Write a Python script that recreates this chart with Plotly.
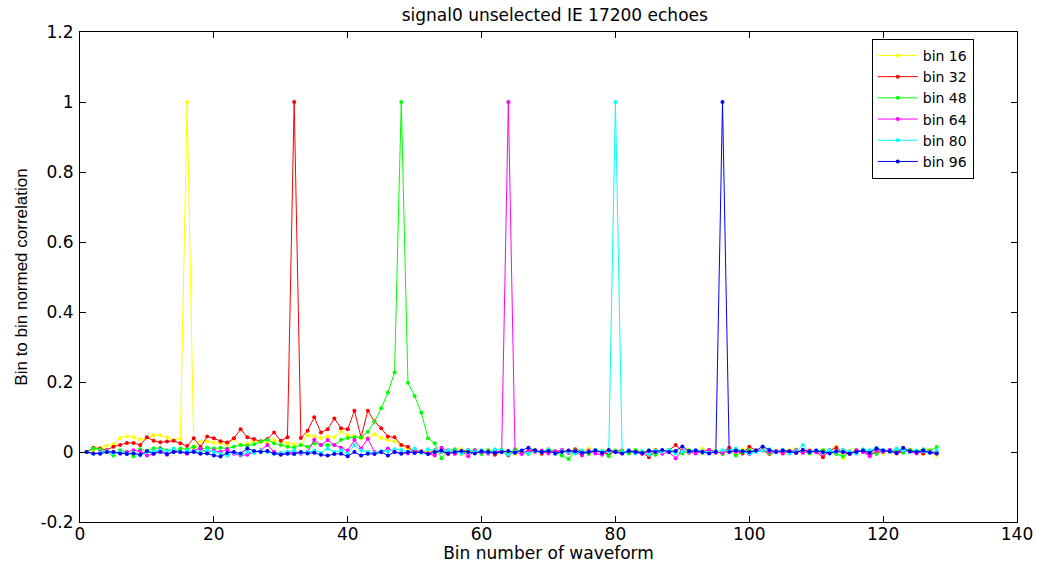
import plotly.graph_objects as go

bins = list(range(1, 129))

bin16 = [0.0, 0.005, 0.012, 0.018, 0.022, 0.04, 0.045, 0.042, 0.036, 0.04,
         0.048, 0.048, 0.042, 0.034, 0.038, 1.0, 0.01, 0.03, 0.03, 0.027,
         0.025, 0.022, 0.038, 0.02, 0.024, 0.032, 0.028, 0.026, 0.034, 0.03,
         0.025, 0.022, 0.02, 0.048, 0.045, 0.04, 0.044, 0.042, 0.058, 0.048,
         0.045, 0.039, 0.04, 0.051, 0.04, 0.034, 0.03, 0.02, 0.01, 0.005,
         0.0, 0.003, -0.005, 0.004, 0.002, -0.003, 0.008, 0.0, 0.005, -0.004,
         0.006, 0.0, 0.005, 0.002, -0.006, 0.003, 0.0, 0.004, -0.002, 0.006,
         0.0, 0.003, 0.005, -0.005, 0.002, 0.01, 0.0, 0.004, 0.006, 0.003,
         -0.002, 0.005, 0.002, -0.004, 0.0, 0.008, 0.002, 0.005, -0.003, 0.006,
         0.004, 0.0, 0.01, 0.005, 0.003, -0.005, 0.004, 0.0, 0.008, 0.006,
         0.002, 0.01, 0.0, 0.004, -0.006, 0.005, 0.008, 0.0, 0.004, 0.002,
         0.006, 0.0, 0.015, -0.018, 0.004, 0.006, 0.002, 0.0, 0.008, -0.004,
         0.005, 0.002, 0.01, 0.0, 0.004, -0.005, 0.006, -0.01]

bin32 = [0.0, 0.012, 0.01, 0.006, 0.015, 0.02, 0.026, 0.026, 0.02, 0.042,
         0.032, 0.028, 0.03, 0.032, 0.025, 0.017, 0.039, 0.015, 0.044, 0.039,
         0.031, 0.027, 0.039, 0.065, 0.042, 0.037, 0.031, 0.037, 0.056, 0.032,
         0.042, 1.0, 0.04, 0.061, 0.099, 0.056, 0.065, 0.096, 0.068, 0.065,
         0.118, 0.042, 0.118, 0.087, 0.068, 0.044, 0.042, 0.02, 0.015, 0.0,
         0.002, -0.004, 0.005, 0.0, -0.006, 0.004, 0.0, 0.006, 0.002, -0.003,
         0.004, -0.008, 0.003, -0.01, 0.005, 0.0, 0.002, 0.006, -0.005, 0.003,
         0.0, 0.004, -0.002, 0.008, 0.002, -0.004, 0.005, 0.0, -0.006, 0.003,
         0.004, -0.003, 0.002, 0.0, -0.015, 0.005, 0.002, 0.005, 0.02, 0.003,
         -0.002, 0.004, 0.0, 0.006, -0.002, 0.0, 0.012, 0.002, -0.004, 0.015,
         0.005, 0.004, -0.006, 0.0, 0.005, 0.002, -0.003, 0.006, 0.004, 0.0,
         -0.015, 0.005, 0.012, 0.0, -0.006, 0.004, 0.002, -0.008, 0.0, 0.003,
         0.006, -0.004, 0.0, 0.005, 0.002, -0.004, 0.003, 0.0]

bin48 = [0.0, 0.01, 0.008, 0.0, -0.01, 0.005, 0.0, -0.012, 0.008, 0.003,
         0.01, 0.012, 0.005, 0.0, 0.01, 0.008, 0.015, 0.008, 0.012, 0.01,
         0.012, 0.01, 0.015, 0.02, 0.018, 0.022, 0.03, 0.035, 0.025, 0.02,
         0.015, 0.013, 0.02, 0.015, 0.025, 0.02, 0.02, 0.02, 0.035, 0.04,
         0.042, 0.042, 0.058, 0.087, 0.125, 0.17, 0.227, 1.0, 0.198, 0.16,
         0.112, 0.039, 0.025, -0.018, 0.004, 0.008, -0.005, 0.002, 0.006, -0.006,
         0.004, 0.0, 0.006, -0.004, 0.008, 0.002, -0.006, 0.004, 0.0, 0.008,
         0.002, -0.01, -0.02, 0.004, 0.0, -0.006, 0.005, 0.0, -0.012, 0.004,
         0.002, -0.004, 0.006, 0.0, 0.004, -0.008, 0.003, 0.006, 0.0, -0.004,
         0.005, 0.0, -0.003, 0.006, 0.002, -0.006, 0.004, -0.01, 0.0, 0.005,
         0.002, 0.006, -0.004, 0.0, 0.004, -0.002, 0.005, 0.0, -0.004, 0.003,
         0.005, 0.0, -0.006, -0.012, -0.004, 0.005, 0.0, 0.004, -0.006, 0.003,
         0.0, 0.005, -0.002, 0.006, 0.002, 0.008, 0.004, 0.014]

bin64 = [0.0, -0.005, 0.0, 0.003, 0.0, -0.004, 0.0, 0.005, 0.002, -0.01,
         -0.005, 0.008, -0.008, 0.002, 0.0, -0.005, 0.004, 0.01, -0.002, 0.004,
         0.0, 0.008, -0.005, -0.01, -0.008, 0.0, 0.005, 0.02, 0.0, -0.005,
         -0.002, 0.0, -0.005, 0.0, 0.035, 0.02, 0.034, 0.02, 0.012, 0.004,
         0.034, 0.01, 0.038, 0.0, 0.0, 0.01, 0.0, -0.002, -0.004, 0.006,
         0.0, -0.004, -0.01, 0.012, 0.004, -0.006, 0.002, -0.012, 0.004, 0.0,
         -0.005, 0.003, 0.0, 1.0, 0.0, -0.006, 0.003, 0.0, 0.004, -0.004,
         0.002, 0.006, -0.002, 0.0, -0.01, 0.004, -0.004, -0.008, 0.002, 0.0,
         -0.004, 0.005, 0.0, -0.006, 0.002, 0.004, -0.005, 0.0, -0.018, 0.004,
         0.0, -0.004, 0.002, 0.006, 0.0, -0.003, 0.004, 0.0, 0.003, -0.006,
         0.002, 0.006, 0.0, 0.003, -0.004, 0.0, 0.005, -0.003, 0.002, 0.0,
         -0.005, 0.004, 0.0, 0.006, -0.006, 0.005, 0.0, -0.012, 0.004, 0.0,
         0.006, -0.002, 0.004, 0.0, -0.004, 0.003, 0.0, -0.004]

bin80 = [0.0, -0.005, -0.002, 0.003, -0.004, 0.0, -0.005, -0.002, -0.01, 0.0,
         0.002, 0.006, 0.003, 0.01, 0.0, 0.004, 0.002, 0.0, 0.005, 0.0,
         -0.005, -0.01, -0.002, -0.008, 0.0, -0.003, 0.004, 0.0, -0.005, -0.002,
         0.0, 0.005, -0.003, 0.0, 0.004, -0.002, 0.01, 0.0, 0.005, -0.004,
         0.02, 0.004, 0.0, -0.003, 0.003, 0.002, 0.008, 0.006, 0.0, 0.01,
         -0.002, 0.008, 0.004, 0.0, 0.005, 0.002, -0.003, 0.006, 0.0, 0.005,
         -0.002, 0.008, 0.004, -0.008, 0.0, 0.004, -0.004, 0.003, 0.0, 0.006,
         -0.005, 0.002, 0.0, -0.004, 0.004, 0.0, 0.005, 0.002, 0.0, 1.0,
         0.0, 0.004, -0.004, 0.002, -0.008, 0.004, 0.0, 0.006, -0.004, 0.002,
         0.0, 0.006, 0.002, -0.002, 0.0, 0.005, 0.004, 0.01, 0.002, -0.004,
         0.0, 0.004, 0.008, 0.0, 0.006, -0.004, 0.002, 0.02, 0.0, 0.004,
         -0.002, 0.005, 0.0, 0.006, 0.002, -0.005, 0.008, 0.004, 0.012, 0.006,
         0.002, 0.01, 0.005, 0.0, 0.004, 0.002, -0.002, 0.004]

bin96 = [0.0, -0.004, -0.005, 0.0, 0.0, -0.004, -0.006, -0.004, -0.008, 0.003,
         -0.005, 0.0, -0.006, 0.0, 0.0, -0.003, 0.0, -0.005, -0.004, -0.01,
         -0.013, -0.002, 0.0, -0.004, 0.01, 0.003, 0.0, 0.003, -0.004, -0.008,
         -0.005, -0.006, 0.0, -0.004, -0.002, -0.008, -0.01, -0.006, -0.005, -0.012,
         0.0, -0.01, -0.005, -0.006, 0.0, -0.01, 0.0, -0.005, 0.0, -0.003,
         0.0, -0.006, 0.0, 0.004, -0.004, 0.0, 0.003, 0.0, -0.004, 0.002,
         0.0, -0.003, 0.0, 0.003, -0.002, 0.004, 0.012, 0.004, 0.0, 0.003,
         -0.004, 0.0, 0.004, 0.002, -0.002, 0.0, 0.004, -0.002, 0.006, 0.0,
         -0.004, 0.003, 0.0, -0.003, 0.004, 0.0, 0.006, 0.0, 0.003, 0.016,
         0.002, 0.004, 0.0, -0.004, 0.0, 1.0, 0.0, 0.004, 0.002, 0.0,
         0.004, 0.016, 0.006, 0.0, 0.004, 0.002, -0.002, 0.006, 0.0, 0.004,
         0.0, -0.004, 0.002, 0.0, -0.004, 0.0, 0.004, -0.002, 0.01, 0.004,
         0.002, -0.003, 0.012, 0.002, 0.0, 0.004, -0.002, -0.004]

series_names = ["bin 16", "bin 32", "bin 48", "bin 64", "bin 80", "bin 96"]
series_values = [bin16, bin32, bin48, bin64, bin80, bin96]
series_colors = ["#ffff00", "#ff0000", "#00ff00", "#ff00ff", "#00ffff", "#0000ff"]

y_tickvals = [-0.2, 0, 0.2, 0.4, 0.6, 0.8, 1, 1.2]
y_ticktext = ["-0.2", "0", "0.2", "0.4", "0.6", "0.8", "1", "1.2"]
x_tickvals = [0, 20, 40, 60, 80, 100, 120, 140]

fig = go.Figure()
for name, vals, col in zip(series_names, series_values, series_colors):
    fig.add_trace(go.Scatter(
        x=bins, y=vals, name=name, mode="lines+markers",
        line=dict(color=col, width=1),
        marker=dict(color=col, size=4, symbol="circle"),
    ))

axis_common = dict(
    showline=True, linecolor="black", linewidth=1, mirror="ticks",
    ticks="inside", ticklen=6, tickcolor="black", tickwidth=1,
    showgrid=False, zeroline=False, automargin=False,
    tickfont=dict(family="DejaVu Sans", size=17, color="black"),
)

fig.update_layout(
    width=1037, height=563,
    margin=dict(l=80, r=20, t=32, b=41),
    paper_bgcolor="white", plot_bgcolor="white",
    title=dict(text="signal0 unselected IE 17200 echoes",
               x=0.535, xanchor="center", y=1 - 15 / 563, yanchor="middle",
               font=dict(family="DejaVu Sans", size=17, color="black")),
    xaxis=dict(range=[0, 140], tickvals=x_tickvals, ticklabelstandoff=-3,
               title=dict(text="Bin number of waveform", standoff=0,
                          font=dict(family="DejaVu Sans", size=17, color="black")),
               **axis_common),
    yaxis=dict(range=[-0.2, 1.2], tickvals=y_tickvals, ticktext=y_ticktext,
               ticklabelstandoff=2,
               title=dict(text="Bin to bin normed correlation", standoff=8,
                          font=dict(family="Liberation Sans", size=17, color="black")),
               **axis_common),
    legend=dict(x=0.845, y=0.986, xanchor="left", yanchor="top",
                bgcolor="white", bordercolor="black", borderwidth=1,
                font=dict(family="DejaVu Sans", size=14, color="black"),
                tracegroupgap=0, itemwidth=40),
    showlegend=True,
)

fig.write_html(
    "out.html",
    config={"displayModeBar": False},
    post_script="document.body.style.margin='0';document.body.style.overflow='hidden';",
)
